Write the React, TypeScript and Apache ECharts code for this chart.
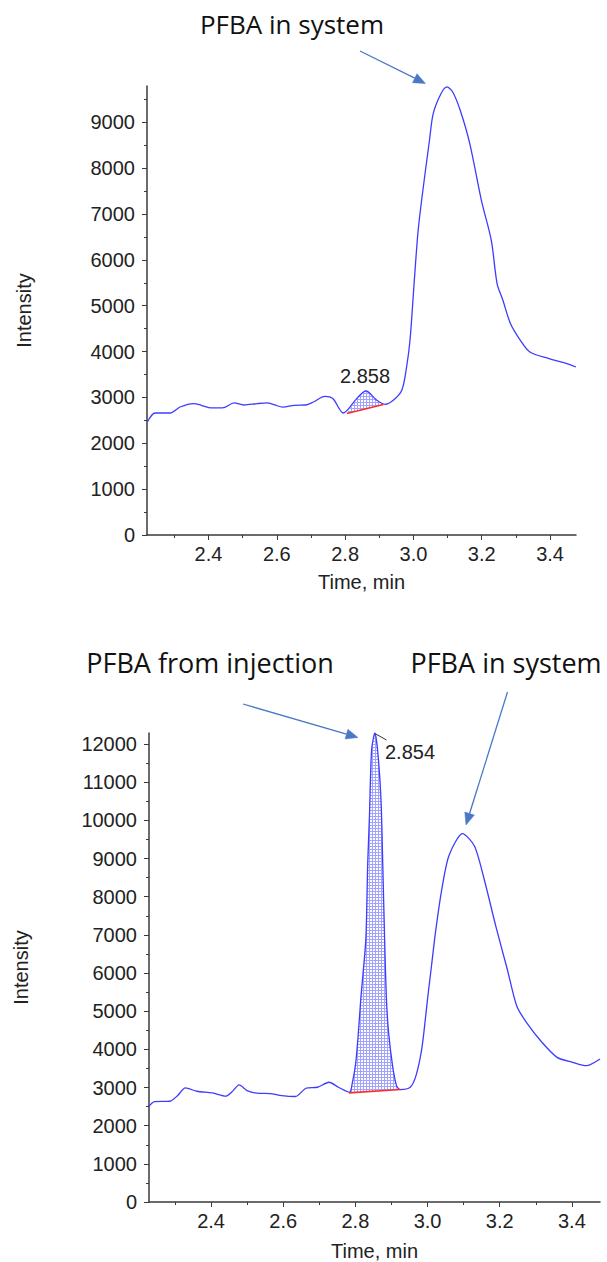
import React, { useEffect, useRef } from "react";
import * as echarts from "echarts";

// ---- Top chromatogram (system only) ----
const topTimes = [2.221, 2.244, 2.288, 2.317, 2.357, 2.379, 2.408, 2.441, 2.475, 2.504, 2.543, 2.572, 2.594, 2.617, 2.651, 2.685, 2.707, 2.741, 2.764, 2.795, 2.834, 2.861, 2.893, 2.917, 2.941, 2.966, 2.98, 2.99, 3.002, 3.013, 3.024, 3.047, 3.058, 3.081, 3.098, 3.115, 3.137, 3.165, 3.199, 3.228, 3.245, 3.262, 3.284, 3.313, 3.341, 3.397, 3.443, 3.476];
const topValues = [2464, 2660, 2660, 2791, 2865, 2828, 2770, 2770, 2879, 2835, 2865, 2879, 2835, 2790, 2828, 2835, 2900, 3024, 2974, 2660, 2974, 3140, 2937, 2850, 2937, 3155, 3663, 4245, 5482, 6572, 7298, 8607, 9188, 9625, 9770, 9660, 9261, 8535, 7298, 6426, 5482, 5118, 4610, 4245, 3990, 3846, 3751, 3663];
const topBaseTimes = [2.805, 2.912];
const topBaseValues = [2650, 2845];
const topPeakLabel = "2.858";

// ---- Bottom chromatogram (injection + system) ----
const botTimes = [2.228, 2.243, 2.286, 2.307, 2.329, 2.361, 2.404, 2.441, 2.457, 2.478, 2.5, 2.527, 2.564, 2.596, 2.634, 2.663, 2.695, 2.727, 2.753, 2.784, 2.791, 2.8, 2.807, 2.815, 2.829, 2.834, 2.839, 2.845, 2.854, 2.862, 2.871, 2.876, 2.881, 2.886, 2.892, 2.903, 2.914, 2.924, 2.952, 2.968, 2.984, 2.995, 3.0, 3.011, 3.022, 3.038, 3.059, 3.097, 3.13, 3.157, 3.189, 3.221, 3.247, 3.274, 3.317, 3.359, 3.402, 3.44, 3.478];
const botValues = [2510, 2630, 2640, 2787, 2988, 2902, 2858, 2773, 2878, 3069, 2920, 2852, 2840, 2787, 2765, 2981, 3007, 3138, 3007, 2876, 3093, 3573, 4272, 5319, 6889, 8807, 10115, 11852, 12290, 11800, 10544, 8807, 6889, 5319, 4447, 3573, 3050, 2946, 3007, 3310, 4010, 4883, 5319, 6190, 7064, 8110, 9068, 9654, 9330, 8458, 7236, 6100, 5144, 4708, 4185, 3791, 3662, 3573, 3749];
const botBaseTimes = [2.782, 2.925];
const botBaseValues = [2860, 2950];
const botPeakLabel = "2.854";

const xMajor = [2.4, 2.6, 2.8, 3.0, 3.2, 3.4];
const xMinor = [2.3, 2.5, 2.7, 2.9, 3.1, 3.3];
const topYMajor = [0, 1000, 2000, 3000, 4000, 5000, 6000, 7000, 8000, 9000];
const topYMinor = [500, 1500, 2500, 3500, 4500, 5500, 6500, 7500, 8500, 9500];
const botYMajor = [0, 1000, 2000, 3000, 4000, 5000, 6000, 7000, 8000, 9000, 10000, 11000, 12000];
const botYMinor = [500, 1500, 2500, 3500, 4500, 5500, 6500, 7500, 8500, 9500, 10500, 11500];

const LINE = "#3c3cff";
const AXIS = "#3a3a3a";
const TXT = "#222222";
const ARROW = "#4a78c6";
const FONT = "'Liberation Sans', Arial, sans-serif";
const ANN_FONT = "'Open Sans', 'Noto Sans', sans-serif";

function zip(t: number[], v: number[]) {
  return t.map((x, i) => [x, v[i]]);
}

function arrow(sx: number, sy: number, tx: number, ty: number) {
  const dx = tx - sx, dy = ty - sy;
  const len = Math.sqrt(dx * dx + dy * dy);
  const ux = dx / len, uy = dy / len;
  const L = 12, W = 5;
  const bx = tx - ux * L, by = ty - uy * L;
  return [
    { type: "line", shape: { x1: sx, y1: sy, x2: bx, y2: by }, style: { stroke: ARROW, lineWidth: 1.3 } },
    {
      type: "polygon",
      shape: { points: [[tx, ty], [bx - uy * W, by + ux * W], [bx + uy * W, by - ux * W]] },
      style: { fill: ARROW, stroke: ARROW, lineWidth: 0.5 },
    },
  ];
}

export default function App() {
  const ref = useRef<HTMLDivElement>(null);
  useEffect(() => {
    document.body.style.margin = "0";
    const chart = echarts.init(ref.current!, null, { renderer: "svg" });

    const cv = document.createElement("canvas");
    cv.width = 3;
    cv.height = 3;
    const ctx = cv.getContext("2d")!;
    ctx.fillStyle = "#a2a2ff";
    ctx.fillRect(0, 0, 3, 1);
    ctx.fillRect(0, 0, 1, 3);
    const pattern: any = { image: cv, repeat: "repeat" };

    const grids = [
      { left: 147, top: 86, width: 429, height: 449 },
      { left: 149, top: 733, width: 451, height: 470 },
    ];
    const xr = [
      [2.22, 3.476],
      [2.228, 3.478],
    ];
    const yr = [9790, 12290];
    const yMaj = [topYMajor, botYMajor];
    const yMin = [topYMinor, botYMinor];
    const nameGapX = [37, 39];
    const nameGapY = [113, 118];

    const xAxis: any[] = [];
    const yAxis: any[] = [];
    for (let g = 0; g < 2; g++) {
      xAxis.push({
        type: "value", gridIndex: g, min: xr[g][0], max: xr[g][1],
        name: "Time, min", nameLocation: "middle", nameGap: nameGapX[g],
        nameTextStyle: { color: TXT, fontFamily: FONT, fontSize: 20 },
        axisLine: { show: true, lineStyle: { color: AXIS, width: 1.5 } },
        axisTick: { show: true, length: 5, customValues: xMajor, lineStyle: { color: AXIS } },
        axisLabel: { customValues: xMajor, formatter: (v: number) => v.toFixed(1), color: TXT, fontFamily: FONT, fontSize: 20, margin: 9 },
        splitLine: { show: false },
      });
      xAxis.push({
        type: "value", gridIndex: g, min: xr[g][0], max: xr[g][1], position: "bottom",
        axisLine: { show: false },
        axisTick: { show: true, length: 3, customValues: xMinor, lineStyle: { color: AXIS } },
        axisLabel: { show: false },
        splitLine: { show: false },
      });
      yAxis.push({
        type: "value", gridIndex: g, min: 0, max: yr[g],
        name: "Intensity", nameLocation: "middle", nameGap: nameGapY[g],
        nameTextStyle: { color: TXT, fontFamily: FONT, fontSize: 20 },
        axisLine: { show: true, lineStyle: { color: AXIS, width: 1.5 } },
        axisTick: { show: true, length: 5, customValues: yMaj[g], lineStyle: { color: AXIS } },
        axisLabel: { customValues: yMaj[g], formatter: (v: number) => String(Math.round(v)), color: TXT, fontFamily: FONT, fontSize: 20, margin: 12 },
        splitLine: { show: false },
      });
      yAxis.push({
        type: "value", gridIndex: g, min: 0, max: yr[g], position: "left",
        axisLine: { show: false },
        axisTick: { show: true, length: 3, customValues: yMin[g], lineStyle: { color: AXIS } },
        axisLabel: { show: false },
        splitLine: { show: false },
      });
    }

    const makeFill = (xi: number, yi: number, times: number[], vals: number[], bt: number[], bv: number[]) => ({
      type: "custom", xAxisIndex: xi, yAxisIndex: yi, z: 1, silent: true,
      data: [[bt[0], bv[0]]],
      renderItem: (_p: any, api: any) => {
        const pts: number[][] = [api.coord([bt[0], bv[0]])];
        times.forEach((t, i) => {
          if (t > bt[0] && t < bt[1]) pts.push(api.coord([t, vals[i]]));
        });
        pts.push(api.coord([bt[1], bv[1]]));
        return { type: "polygon", shape: { points: pts }, style: { fill: pattern, stroke: "none" } };
      },
    });

    const lineSeries = (xi: number, yi: number, data: number[][], smooth: number) => ({
      type: "line", xAxisIndex: xi, yAxisIndex: yi, data, showSymbol: false, smooth,
      lineStyle: { color: LINE, width: 1.3 }, z: 2, silent: true,
    });
    const baseSeries = (xi: number, yi: number, data: number[][]) => ({
      type: "line", xAxisIndex: xi, yAxisIndex: yi, data, showSymbol: false,
      lineStyle: { color: "#ff2a2a", width: 1.6 }, z: 3, silent: true,
    });

    const graphic: any[] = [
      { type: "text", x: 292, y: 24, style: { text: "PFBA in system", font: `26px ${ANN_FONT}`, fill: "#111", align: "center", verticalAlign: "middle" } },
      ...arrow(360, 51, 425.5, 83.5),
      { type: "text", x: 365, y: 376, style: { text: topPeakLabel, font: `20px ${FONT}`, fill: TXT, align: "center", verticalAlign: "middle" } },
      { type: "text", x: 210, y: 662, style: { text: "PFBA from injection", font: `27px ${ANN_FONT}`, fill: "#111", align: "center", verticalAlign: "middle" } },
      { type: "text", x: 506, y: 662, style: { text: "PFBA in system", font: `27px ${ANN_FONT}`, fill: "#111", align: "center", verticalAlign: "middle" } },
      ...arrow(243, 704, 358, 737.5),
      ...arrow(507.5, 692, 466, 825),
      { type: "line", shape: { x1: 375, y1: 733.5, x2: 386.5, y2: 740 }, style: { stroke: "#333", lineWidth: 1 } },
      { type: "text", x: 410, y: 752, style: { text: botPeakLabel, font: `20px ${FONT}`, fill: TXT, align: "center", verticalAlign: "middle" } },
    ];

    chart.setOption({
      animation: false,
      backgroundColor: "#ffffff",
      grid: grids,
      xAxis,
      yAxis,
      series: [
        makeFill(0, 0, topTimes, topValues, topBaseTimes, topBaseValues),
        lineSeries(0, 0, zip(topTimes, topValues), 0.3),
        baseSeries(0, 0, zip(topBaseTimes, topBaseValues)),
        makeFill(2, 2, botTimes, botValues, botBaseTimes, botBaseValues),
        lineSeries(2, 2, zip(botTimes, botValues), 0.25),
        baseSeries(2, 2, zip(botBaseTimes, botBaseValues)),
      ],
      graphic,
    });
    return () => chart.dispose();
  }, []);
  return <div ref={ref} style={{ position: "absolute", left: 0, top: 0, width: 607, height: 1262 }} />;
}
